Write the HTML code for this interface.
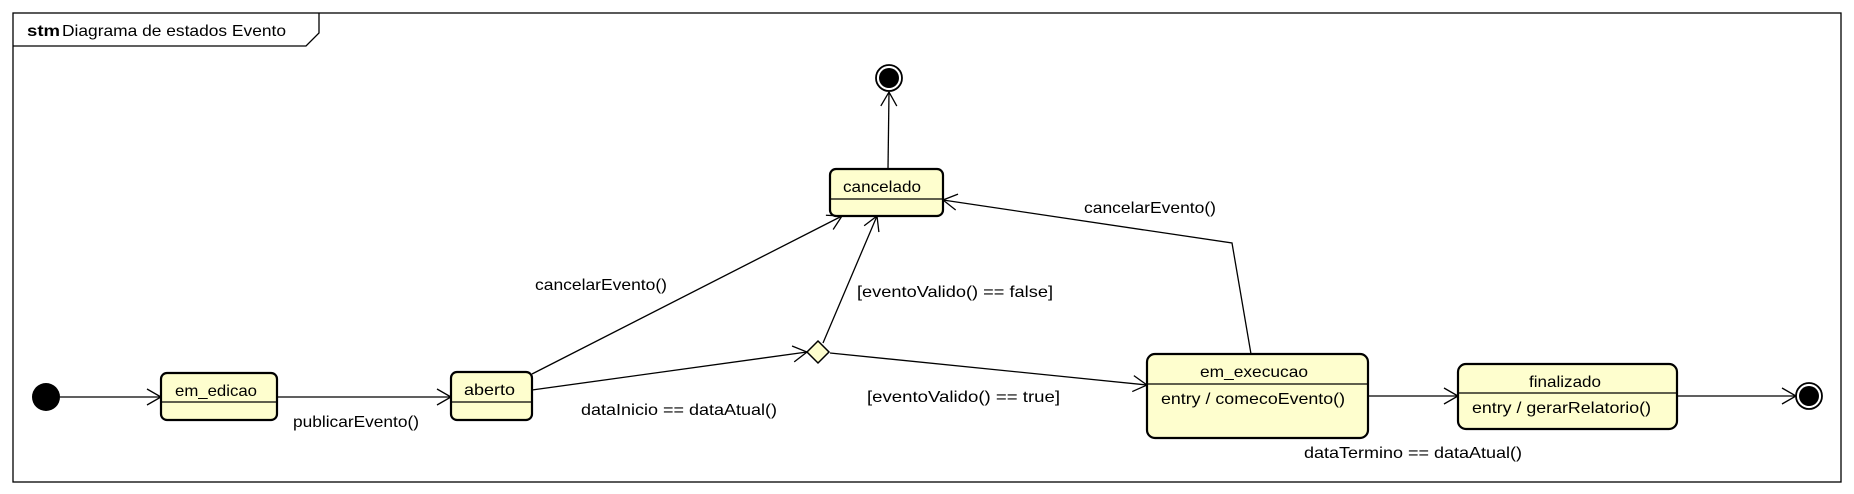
<!DOCTYPE html>
<html><head><meta charset="utf-8"><style>html,body{margin:0;padding:0;background:#fff}svg{display:block}text{font-family:"Liberation Sans",sans-serif;font-size:16px;fill:#000}</style></head>
<body>
<svg width="1854" height="494" viewBox="0 0 1854 494" xmlns="http://www.w3.org/2000/svg">
<defs>
<marker id="a" markerWidth="18" markerHeight="18" refX="15" refY="9" orient="auto" markerUnits="userSpaceOnUse">
<path d="M1,1 L15,9 L1,17" fill="none" stroke="#000" stroke-width="1.3"/>
</marker>
</defs>
<rect x="13" y="13" width="1828" height="469" fill="#fff" stroke="#000" stroke-width="1.3"/>
<path d="M13,46 L306,46 L319,33 L319,13" fill="none" stroke="#000" stroke-width="1.3"/>
<g lengthAdjust="spacingAndGlyphs">
<text x="27" y="36" font-weight="bold" textLength="33" lengthAdjust="spacingAndGlyphs">stm</text>
<text x="62" y="36" textLength="224" lengthAdjust="spacingAndGlyphs">Diagrama de estados Evento</text>
</g>

<g fill="none" stroke="#000" stroke-width="1.3">
<line x1="60" y1="397" x2="161" y2="397" marker-end="url(#a)"/>
<line x1="277" y1="397" x2="451" y2="397" marker-end="url(#a)"/>
<line x1="532" y1="390" x2="807" y2="352" marker-end="url(#a)"/>
<line x1="532" y1="374" x2="842" y2="216" marker-end="url(#a)"/>
<line x1="823" y1="343" x2="877" y2="216" marker-end="url(#a)"/>
<line x1="888" y1="169" x2="889" y2="92" marker-end="url(#a)"/>
<line x1="830" y1="353" x2="1147" y2="385" marker-end="url(#a)"/>
<polyline points="1251,354 1232,243 943,200" marker-end="url(#a)"/>
<line x1="1368" y1="396" x2="1458" y2="396" marker-end="url(#a)"/>
<line x1="1677" y1="396" x2="1796" y2="396" marker-end="url(#a)"/>
</g>

<circle cx="46" cy="397" r="14" fill="#000"/>
<circle cx="889" cy="78" r="13" fill="#fff" stroke="#000" stroke-width="1.8"/>
<circle cx="889" cy="78" r="10" fill="#000"/>
<circle cx="1809" cy="396" r="13" fill="#fff" stroke="#000" stroke-width="1.8"/>
<circle cx="1809" cy="396" r="10" fill="#000"/>

<polygon points="818,341 829,352 818,363 807,352" fill="#FEFECE" stroke="#000" stroke-width="1.5"/>

<g fill="#FEFECE" stroke="#000" stroke-width="2.2">
<rect x="161" y="373" width="116" height="47" rx="6"/>
<rect x="451" y="372" width="81" height="48" rx="6"/>
<rect x="830" y="169" width="113" height="47" rx="6"/>
<rect x="1147" y="354" width="221" height="84" rx="8"/>
<rect x="1458" y="364" width="219" height="65" rx="8"/>
</g>
<g stroke="#000" stroke-width="1.3">
<line x1="161" y1="402" x2="277" y2="402"/>
<line x1="451" y1="402" x2="532" y2="402"/>
<line x1="830" y1="199" x2="943" y2="199"/>
<line x1="1147" y1="384" x2="1368" y2="384"/>
<line x1="1458" y1="393" x2="1677" y2="393"/>
</g>

<text x="175" y="396" textLength="82" lengthAdjust="spacingAndGlyphs">em_edicao</text>
<text x="464" y="395" textLength="51" lengthAdjust="spacingAndGlyphs">aberto</text>
<text x="843" y="192" textLength="78" lengthAdjust="spacingAndGlyphs">cancelado</text>
<text x="1200" y="377" textLength="108" lengthAdjust="spacingAndGlyphs">em_execucao</text>
<text x="1161" y="404" textLength="184" lengthAdjust="spacingAndGlyphs">entry / comecoEvento()</text>
<text x="1529" y="387" textLength="72" lengthAdjust="spacingAndGlyphs">finalizado</text>
<text x="1472" y="413" textLength="179" lengthAdjust="spacingAndGlyphs">entry / gerarRelatorio()</text>

<text x="293" y="427" textLength="126" lengthAdjust="spacingAndGlyphs">publicarEvento()</text>
<text x="581" y="415" textLength="196" lengthAdjust="spacingAndGlyphs">dataInicio == dataAtual()</text>
<text x="535" y="290" textLength="132" lengthAdjust="spacingAndGlyphs">cancelarEvento()</text>
<text x="857" y="297" textLength="196" lengthAdjust="spacingAndGlyphs">[eventoValido() == false]</text>
<text x="867" y="402" textLength="193" lengthAdjust="spacingAndGlyphs">[eventoValido() == true]</text>
<text x="1084" y="213" textLength="132" lengthAdjust="spacingAndGlyphs">cancelarEvento()</text>
<text x="1304" y="458" textLength="218" lengthAdjust="spacingAndGlyphs">dataTermino == dataAtual()</text>
</svg>
</body></html>
